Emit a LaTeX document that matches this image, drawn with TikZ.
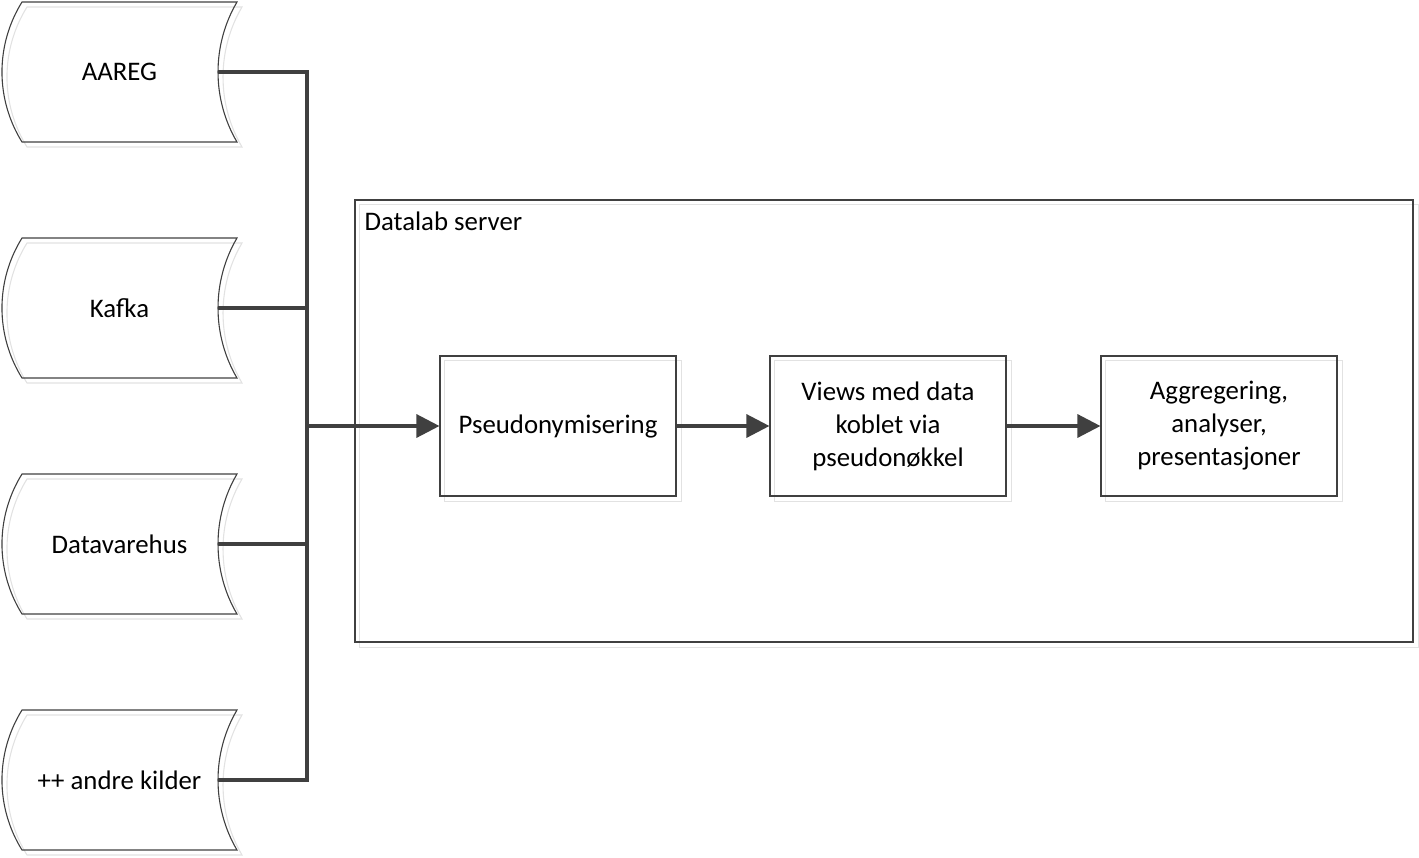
\documentclass[tikz,border=0pt]{standalone}
\usepackage{fontspec}
\setmainfont{Carlito}
\usetikzlibrary{arrows.meta,backgrounds}
\definecolor{linegray}{HTML}{404040}
\definecolor{shadowgray}{HTML}{E2E2E2}
\tikzset{
    src/.style={minimum width=235pt, minimum height=140pt, inner sep=0pt},
    procbox/.style={draw=linegray, line width=1.1pt, minimum width=236pt, minimum height=140pt, inner sep=0pt, align=center},
    container/.style={draw=linegray, line width=1.1pt, minimum width=1058pt, minimum height=442pt, inner sep=0pt},
    srcline/.style={draw=linegray, line width=1.1pt},
    shadowline/.style={draw=shadowgray, line width=1.1pt},
    conn/.style={draw=linegray, line width=3.3pt},
    flow/.style={conn, -{Triangle[length=23pt,width=23pt]}},
}
\begin{document}
\begin{tikzpicture}[x=1pt, y=-1pt, font=\fontsize{26.8}{33}\selectfont]
    \useasboundingbox (0,0) rectangle (1419,857);
    % server and steps
    \node[container] (server) at (884,421) {};
    \node[anchor=base west] (serverlabel) at (361,230) {Datalab server};
    \node[procbox] (pseudo) at (558,426) {\raisebox{-2pt}{Pseudonymisering}};
    \node[procbox] (views) at (888,426) {Views med data\\koblet via\\pseudonøkkel};
    \node[procbox] (aggr) at (1219,426) {Aggregering,\\analyser,\\presentasjoner};
    \coordinate (hub) at (307,426);
    % sources
    \foreach \y/\name/\txt in {72/aareg/AAREG, 308/kafka/Kafka, 544/dvh/Datavarehus, 780/andre/{++ andre kilder}}
    {
        \draw[shadowline, xshift=5pt, yshift=-5pt] (22,\y-70) -- (237,\y-70) .. controls (211.7,\y-27) and (211.7,\y+27) .. (237,\y+70) -- (22,\y+70) .. controls (-4.7,\y+27) and (-4.7,\y-27) .. cycle;
        \draw[srcline] (22,\y-70) -- (237,\y-70) .. controls (211.7,\y-27) and (211.7,\y+27) .. (237,\y+70) -- (22,\y+70) .. controls (-4.7,\y+27) and (-4.7,\y-27) .. cycle;
        \node[src] (\name) at (119.5,\y) {\txt};
        \draw[conn] ([xshift=-19pt]\name.east) -| (hub);
    }
    \draw[flow] (hub) -- (pseudo);
    \draw[flow] (pseudo) -- (views);
    \draw[flow] (views) -- (aggr);
    % shadows
    \begin{scope}[on background layer]
        \foreach \n in {server,pseudo,views,aggr}
            \draw[shadowline] ([shift={(5pt,-5pt)}]\n.south west) rectangle ([shift={(5pt,-5pt)}]\n.north east);
    \end{scope}
\end{tikzpicture}
\end{document}
